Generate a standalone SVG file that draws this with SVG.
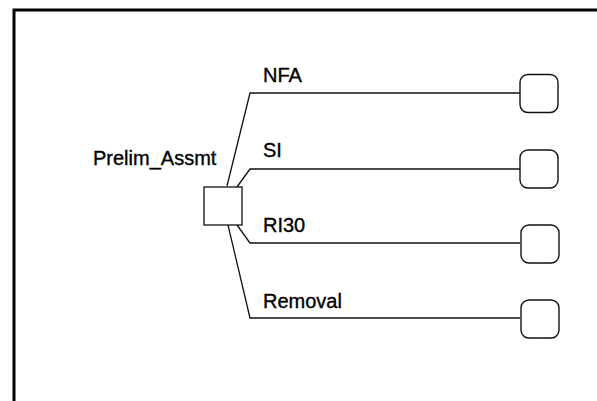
<svg xmlns="http://www.w3.org/2000/svg" width="597" height="401" viewBox="0 0 597 401">
<style>
.frame{fill:none;stroke:#000;stroke-width:3}
.conn{fill:none;stroke:#111;stroke-width:1.3}
.dec{fill:#fff;stroke:#111;stroke-width:1.3}
.term{fill:#fff;stroke:#111;stroke-width:1.4}
text{font-family:"Liberation Sans",Arial,sans-serif;font-size:20px;fill:#000;stroke:#000;stroke-width:0.35}
</style>
<rect width="597" height="401" fill="#fff"/>
<path class="frame" d="M14,401 V10 H597"/>
<g id="connectors">
<polyline class="conn" points="227,186 250,93 520,93"/>
<polyline class="conn" points="237,187 250,169 520,169"/>
<polyline class="conn" points="237,225 250,243 520,243"/>
<polyline class="conn" points="228,225 250,318 520,318"/>
<text x="263" y="82">NFA</text>
<text x="263" y="157">SI</text>
<text x="263" y="232">RI30</text>
<text x="263" y="308">Removal</text>
</g>
<g id="prelim">
<rect class="dec" x="204" y="187" width="38" height="38"/>
<text x="93" y="165">Prelim_Assmt</text>
</g>
<g id="end-nfa"><rect class="term" x="520" y="74.5" width="38" height="38" rx="8"/></g>
<g id="end-si"><rect class="term" x="520" y="150" width="38" height="38" rx="8"/></g>
<g id="end-ri30"><rect class="term" x="521" y="225" width="38" height="38" rx="8"/></g>
<g id="end-removal"><rect class="term" x="521" y="300" width="38" height="38" rx="8"/></g>
</svg>
